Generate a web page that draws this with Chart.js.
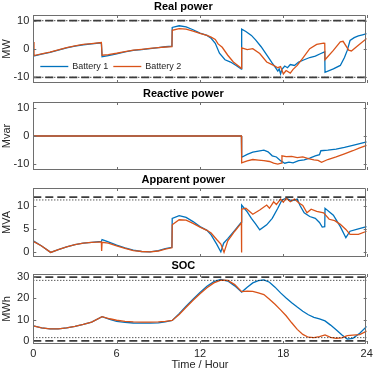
<!DOCTYPE html>
<html>
<head>
<meta charset="utf-8">
<script src="https://cdn.jsdelivr.net/npm/chart.js@4"></script>
<style>
  body { margin: 0; background: #fff; width: 374px; height: 374px; position: relative; overflow: hidden; }
  canvas { position: absolute; left: 0; }
</style>
</head>
<body>
<canvas id="real" width="374" height="85" style="top:0px"></canvas>
<canvas id="reactive" width="374" height="85" style="top:87px"></canvas>
<canvas id="apparent" width="374" height="86" style="top:173px"></canvas>
<canvas id="soc" width="374" height="115" style="top:259px"></canvas>
<script>
// ---- data (hours / MW, Mvar, MVA, MWh) ----
const hourTicks = [0, 6, 12, 18, 24];
const realTicks = [-10, 0, 10];
const reactiveTicks = [-10, 0, 10];
const apparentTicks = [0, 5, 10];
const socTicks = [0, 10, 20, 30];

const realTime1 = [0, 0.6, 1.2, 1.8, 2.4, 3.0, 3.6, 4.2, 4.9, 4.95, 5.4, 6.0, 6.6, 7.2, 7.8, 8.4, 9.0, 9.5, 9.98, 10.0, 10.5, 11.0, 11.5, 12.0, 12.5, 12.8, 13.1, 13.4, 13.8, 14.2, 14.6, 14.98, 15.0, 15.3, 15.7, 16.0, 16.4, 16.9, 17.2, 17.4, 17.6, 17.7, 17.8, 17.9, 18.1, 18.3, 18.5, 18.8, 19.1, 19.5, 19.9, 20.3, 20.7, 20.98, 21.0, 21.6, 22.1, 22.4, 22.6, 22.8, 23.1, 23.4, 23.7, 24];
const realBattery1 = [-2.5, -1.8, -1.2, -0.4, 0.4, 1.0, 1.5, 1.8, 2.2, -2.7, -2.3, -1.7, -1.0, -0.5, -0.2, 0.1, 0.5, 0.8, 1.0, 7.6, 8.2, 7.8, 6.8, 5.6, 4.8, 3.8, 2.0, -1.5, -3.8, -4.6, -5.8, -7.1, 7.0, 6.2, 4.8, 3.2, 0.8, -2.8, -5.0, -6.3, -7.8, -7.0, -8.8, -7.2, -6.0, -6.6, -5.5, -5.8, -4.6, -3.8, -3.0, -2.5, -1.6, -1.0, -8.2, -7.0, -5.8, -3.0, -0.5, 3.0, 4.0, 4.6, 5.0, 5.4];
const realTime2 = [0, 0.05, 0.6, 1.2, 1.8, 2.4, 3.0, 3.6, 4.2, 4.9, 4.95, 5.4, 6.0, 6.6, 7.2, 7.8, 8.4, 9.0, 9.5, 9.98, 10.0, 10.5, 11.0, 11.5, 12.0, 12.5, 12.8, 13.1, 13.3, 13.6, 14.0, 14.4, 14.98, 15.0, 15.4, 15.8, 16.3, 16.8, 17.3, 17.6, 17.8, 18.0, 18.2, 18.5, 18.7, 19.0, 19.4, 19.9, 20.4, 20.9, 20.98, 21.0, 21.6, 22.1, 22.3, 22.7, 22.9, 23.4, 24];
const realBattery2 = [2.5, -2.3, -1.7, -1.1, -0.3, 0.5, 1.1, 1.6, 1.9, 2.3, -2.2, -2.0, -1.5, -0.9, -0.4, -0.1, 0.2, 0.5, 0.7, 0.8, 6.6, 7.2, 7.0, 6.3, 5.5, 4.8, 4.2, 3.4, 1.8, 0.6, -2.2, -4.6, -6.8, 0.4, -0.2, 0.1, -1.6, -4.6, -5.8, -6.6, -6.2, -8.8, -7.6, -8.5, -7.2, -5.8, -3.2, 0.1, 1.6, 2.1, 2.0, -3.8, -0.5, 2.5, 2.7, -0.4, -0.7, 1.3, 3.7];

const reactiveTime1 = [0, 14.98, 15.0, 15.4, 15.8, 16.2, 16.6, 16.9, 17.2, 17.5, 17.8, 18.1, 18.4, 18.7, 19.1, 19.5, 19.9, 20.3, 20.6, 20.7, 21.2, 21.8, 22.4, 23.0, 23.5, 24];
const reactiveBattery1 = [0, 0, -7.5, -6.5, -5.7, -5.3, -5.0, -5.6, -7.0, -7.4, -8.7, -9.6, -9.2, -9.5, -8.7, -8.4, -7.8, -7.0, -6.6, -5.2, -5.0, -4.6, -4.0, -3.3, -2.7, -2.1];
const reactiveTime2 = [0, 14.98, 15.0, 15.4, 15.8, 16.2, 16.6, 17.0, 17.3, 17.6, 17.85, 17.9, 18.2, 18.6, 19.0, 19.4, 19.8, 20.2, 20.5, 20.75, 21.2, 21.8, 22.4, 23.0, 23.5, 24];
const reactiveBattery2 = [0, 0, -9.5, -8.8, -8.3, -8.5, -8.7, -9.0, -9.6, -9.9, -9.6, -7.0, -7.3, -7.2, -7.6, -7.4, -8.0, -8.4, -8.6, -9.3, -8.3, -7.4, -6.3, -5.2, -4.2, -3.3];

const apparentTime1 = [0, 0.6, 1.25, 1.8, 2.4, 3.0, 3.6, 4.2, 4.9, 4.95, 5.4, 6.0, 6.6, 7.2, 7.8, 8.4, 9.0, 9.5, 9.98, 10.0, 10.5, 11.0, 11.5, 12.0, 12.5, 12.8, 13.2, 13.5, 13.7, 14.0, 14.5, 14.98, 15.0, 15.4, 15.7, 16.0, 16.3, 16.8, 17.2, 17.6, 17.9, 18.2, 18.6, 19.0, 19.2, 19.5, 19.9, 20.3, 20.6, 20.8, 20.98, 21.0, 21.6, 22.1, 22.5, 22.8, 23.4, 24];
const apparentBattery1 = [2.5, 1.4, 0, 0.6, 1.2, 1.7, 2.0, 2.2, 2.4, 2.8, 2.3, 1.6, 1.0, 0.5, 0.2, 0.1, 0.4, 0.8, 1.1, 7.4, 8.0, 7.6, 6.7, 5.6, 4.8, 3.8, 1.8, 0.1, 2.0, 3.0, 4.8, 6.6, 10.3, 8.8, 7.4, 6.2, 4.9, 6.0, 7.4, 9.6, 11.4, 11.8, 11.2, 11.6, 10.2, 8.6, 7.8, 7.4, 6.5, 5.5, 5.6, 9.6, 8.1, 5.6, 3.2, 4.6, 5.1, 5.6];
const apparentTime2 = [0, 0.6, 1.25, 1.8, 2.4, 3.0, 3.6, 4.2, 4.9, 4.92, 4.95, 5.4, 6.0, 6.6, 7.2, 7.8, 8.4, 9.0, 9.5, 9.98, 10.0, 10.5, 11.0, 11.5, 12.0, 12.5, 12.8, 13.2, 13.5, 13.73, 14.0, 14.5, 14.98, 14.99, 15.0, 15.3, 15.8, 16.3, 16.8, 17.0, 17.3, 17.5, 17.8, 18.0, 18.2, 18.5, 18.8, 19.1, 19.4, 19.7, 20.0, 20.4, 20.9, 21.3, 21.7, 22.1, 22.5, 22.8, 23.4, 24];
const apparentBattery2 = [2.4, 1.4, 0, 0.6, 1.2, 1.7, 2.0, 2.2, 2.3, 0.3, 2.2, 2.0, 1.4, 0.9, 0.4, 0.2, 0.1, 0.3, 0.7, 1.0, 6.0, 7.1, 7.0, 6.3, 5.5, 4.8, 4.2, 2.8, 1.8, 0.0, 2.5, 4.6, 6.4, 0.0, 9.4, 9.6, 8.3, 9.2, 10.3, 9.6, 11.0, 10.4, 11.6, 10.9, 11.8, 11.0, 11.6, 10.8, 10.2, 8.6, 9.4, 8.9, 8.6, 7.2, 6.9, 6.1, 5.0, 3.9, 3.9, 4.6];

const socTime = [0, 0.6, 1.2, 1.8, 2.4, 3.0, 3.6, 4.2, 4.95, 5.5, 6.0, 6.6, 7.2, 7.8, 8.4, 9.0, 9.5, 10.0, 10.5, 11.0, 11.5, 12.0, 12.5, 13.0, 13.5, 14.0, 14.5, 15.0, 15.4, 15.8, 16.2, 16.6, 17.0, 17.4, 17.8, 18.2, 18.6, 19.0, 19.4, 19.8, 20.2, 20.6, 21.0, 21.4, 21.8, 22.2, 22.6, 23.0, 23.5, 24];
const socBattery1 = [7.0, 6.1, 5.6, 5.6, 6.1, 6.8, 7.7, 8.8, 11.4, 10.1, 9.2, 8.7, 8.4, 8.3, 8.3, 8.5, 8.9, 9.6, 12.8, 16.3, 19.6, 22.8, 25.7, 27.9, 28.9, 28.2, 25.9, 23.0, 25.2, 27.3, 28.4, 28.7, 27.6, 25.3, 22.6, 20.2, 18.0, 15.9, 13.9, 12.3, 11.1, 10.3, 9.4, 7.4, 5.2, 2.9, 0.8, 1.2, 3.6, 6.8];
const socBattery2 = [7.0, 6.1, 5.6, 5.6, 6.1, 6.8, 7.7, 8.8, 11.4, 10.4, 9.7, 9.2, 8.9, 8.8, 8.8, 8.9, 9.2, 9.6, 12.4, 15.8, 19.1, 22.2, 25.0, 27.3, 28.6, 28.5, 26.5, 23.2, 23.4, 23.3, 22.6, 21.8, 19.6, 17.2, 14.6, 11.8, 8.5, 5.4, 3.0, 1.7, 1.5, 2.0, 2.8, 1.6, 1.2, 1.4, 2.4, 2.7, 2.9, 4.6];

const realLimits = [-10, 10];
const apparentLimit = [12];
const apparentDotted = [11.4];
const socLimits = [0, 30];
const socDotted = [1.5, 28.5];

// ---- helpers ----
const BLUE = '#0072BD';
const ORANGE = '#D95319';
Chart.defaults.font.family = '"Liberation Sans", Arial, Helvetica, sans-serif';
Chart.defaults.font.size = 11;
Chart.defaults.color = '#262626';

function pts(t, v) {
  return t.map((x, i) => ({ x: x, y: v[i] }));
}

function series(label, t, v, color, order) {
  return { label, data: pts(t, v), borderColor: color, borderWidth: 1.3, pointRadius: 0, tension: 0, order };
}

function limitLines(values, dashed) {
  return values.map(v => ({
    data: [{ x: 0, y: v }, { x: 24, y: v }],
    borderColor: dashed ? '#3c3c3c' : '#111',
    borderWidth: dashed ? 1.8 : 1,
    borderDash: dashed ? [8, 4] : [1, 2],
    pointRadius: 0,
    order: 0
  }));
}

// box + inward tick marks, MATLAB style
const axesBox = {
  id: 'axesBox',
  afterDraw(chart) {
    const { ctx, chartArea: a, scales: { x, y } } = chart;
    ctx.save();
    ctx.strokeStyle = '#6e6e6e';
    ctx.lineWidth = 1;
    ctx.beginPath();
    ctx.rect(Math.round(a.left) + 0.5, Math.round(a.top) + 0.5, Math.round(a.width) - 1, Math.round(a.height) - 1);
    x.ticks.forEach(t => {
      const px = Math.round(x.getPixelForValue(t.value)) + 0.5;
      ctx.moveTo(px, a.top); ctx.lineTo(px, a.top + 3);
      ctx.moveTo(px, a.bottom); ctx.lineTo(px, a.bottom - 3);
    });
    y.ticks.forEach(t => {
      const py = Math.round(y.getPixelForValue(t.value)) + 0.5;
      ctx.moveTo(a.left, py); ctx.lineTo(a.left + 3, py);
      ctx.moveTo(a.right, py); ctx.lineTo(a.right - 3, py);
    });
    ctx.stroke();
    ctx.restore();
  }
};

// legend inside the axes, bottom-left, no box
const innerLegend = {
  id: 'innerLegend',
  afterDatasetsDraw(chart, args, opts) {
    if (!opts.show) return;
    const { ctx, chartArea: a } = chart;
    let x = a.left + 7;
    const y = a.bottom - 16.5;
    ctx.save();
    ctx.font = '9px "Liberation Sans", Arial, sans-serif';
    ctx.textBaseline = 'middle';
    chart.data.datasets.filter(d => d.label).sort((p, q) => p.label < q.label ? -1 : 1).forEach(d => {
      ctx.strokeStyle = d.borderColor;
      ctx.lineWidth = 1.3;
      ctx.beginPath(); ctx.moveTo(x, y); ctx.lineTo(x + 28, y); ctx.stroke();
      ctx.fillStyle = '#262626';
      ctx.fillText(d.label, x + 32, y + 0.5);
      x += 32 + ctx.measureText(d.label).width + 5;
    });
    ctx.restore();
  }
};

function makeChart(id, opts) {
  const last = !!opts.last;
  return new Chart(document.getElementById(id), {
    type: 'line',
    data: { datasets: opts.datasets },
    options: {
      responsive: false,
      animation: false,
      events: [],
      layout: { padding: { left: 0, right: 7.3, top: 0, bottom: last ? 0 : 2 } },
      plugins: {
        legend: { display: false },
        tooltip: { enabled: false },
        title: { display: true, text: opts.title, color: '#000', font: { size: 11, weight: 'bold' }, padding: { top: 0, bottom: 1.8 } },
        innerLegend: { show: !!opts.legend }
      },
      scales: {
        x: {
          type: 'linear', min: 0, max: 24,
          grid: { display: false, drawTicks: false }, border: { display: false },
          afterBuildTicks: s => { s.ticks = hourTicks.map(v => ({ value: v })); },
          ticks: { display: last, padding: 3, maxRotation: 0 },
          title: { display: last, text: 'Time / Hour', padding: { top: 0, bottom: 2 } },
          afterFit: s => { s.height = last ? 30 : 0; s.paddingLeft = 0; s.paddingRight = 0; }
        },
        y: {
          min: opts.min, max: opts.max,
          grid: { display: false, drawTicks: false }, border: { display: false },
          afterBuildTicks: s => { s.ticks = opts.ticks.map(v => ({ value: v })); },
          ticks: { padding: 4 },
          title: { display: true, text: opts.unit, padding: { top: 0, bottom: 0 } },
          afterFit: s => { s.width = 33.3; s.paddingTop = 0; s.paddingBottom = 0; }
        }
      }
    },
    plugins: [axesBox, innerLegend]
  });
}

makeChart('real', {
  title: 'Real power', unit: 'MW', min: -12, max: 12, ticks: realTicks, legend: true,
  datasets: [
    series('Battery 1', realTime1, realBattery1, BLUE, 2),
    series('Battery 2', realTime2, realBattery2, ORANGE, 1),
    ...limitLines(realLimits, true),
    ...limitLines(realLimits, false)
  ]
});

makeChart('reactive', {
  title: 'Reactive power', unit: 'Mvar', min: -12, max: 12, ticks: reactiveTicks,
  datasets: [
    series('', reactiveTime1, reactiveBattery1, BLUE, 2),
    series('', reactiveTime2, reactiveBattery2, ORANGE, 1)
  ]
});

makeChart('apparent', {
  title: 'Apparent power', unit: 'MVA', min: -1, max: 14, ticks: apparentTicks,
  datasets: [
    series('', apparentTime1, apparentBattery1, BLUE, 2),
    series('', apparentTime2, apparentBattery2, ORANGE, 1),
    ...limitLines(apparentLimit, true),
    ...limitLines(apparentDotted, false)
  ]
});

makeChart('soc', {
  title: 'SOC', unit: 'MWh', min: -1.5, max: 31.5, ticks: socTicks, last: true,
  datasets: [
    series('', socTime, socBattery1, BLUE, 2),
    series('', socTime, socBattery2, ORANGE, 1),
    ...limitLines(socLimits, true),
    ...limitLines(socDotted, false)
  ]
});
</script>
</body>
</html>
